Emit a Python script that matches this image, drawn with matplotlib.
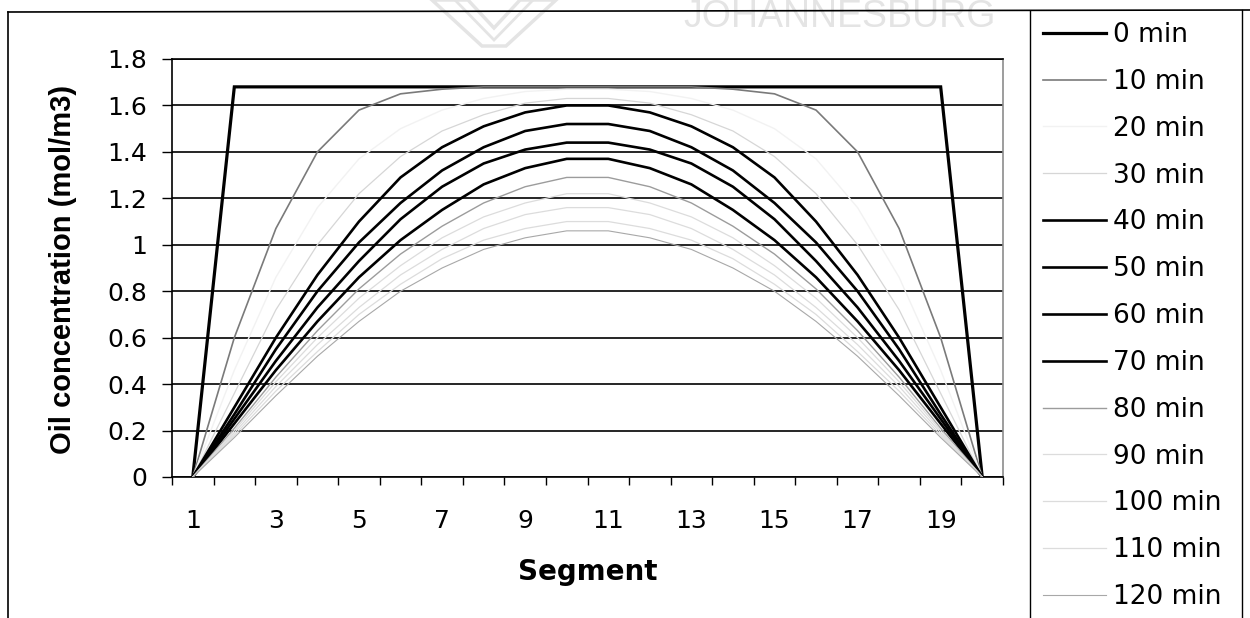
import matplotlib
matplotlib.use("Agg")
import matplotlib.pyplot as plt
from matplotlib.lines import Line2D
from matplotlib.patches import Polygon
from matplotlib.ticker import FixedLocator, NullFormatter, FixedFormatter

plt.rcParams['font.family'] = ['DejaVu Sans']

# Segment numbers along the column
segments = list(range(1, 21))

# Oil concentration profiles (mol/m3) per sampling time
conc_0 = [0, 1.68, 1.68, 1.68, 1.68, 1.68, 1.68, 1.68, 1.68, 1.68,
          1.68, 1.68, 1.68, 1.68, 1.68, 1.68, 1.68, 1.68, 1.68, 0]
conc_10 = [0, 0.60, 1.07, 1.40, 1.58, 1.65, 1.67, 1.68, 1.68, 1.68,
           1.68, 1.68, 1.68, 1.67, 1.65, 1.58, 1.40, 1.07, 0.60, 0]
conc_20 = [0, 0.46, 0.86, 1.16, 1.37, 1.50, 1.58, 1.63, 1.66, 1.67,
           1.67, 1.66, 1.63, 1.58, 1.50, 1.37, 1.16, 0.86, 0.46, 0]
conc_30 = [0, 0.36, 0.72, 1.00, 1.22, 1.38, 1.49, 1.56, 1.61, 1.63,
           1.63, 1.61, 1.56, 1.49, 1.38, 1.22, 1.00, 0.72, 0.36, 0]
conc_40 = [0, 0.30, 0.60, 0.87, 1.10, 1.29, 1.42, 1.51, 1.57, 1.60,
           1.60, 1.57, 1.51, 1.42, 1.29, 1.10, 0.87, 0.60, 0.30, 0]
conc_50 = [0, 0.27, 0.55, 0.80, 1.01, 1.18, 1.32, 1.42, 1.49, 1.52,
           1.52, 1.49, 1.42, 1.32, 1.18, 1.01, 0.80, 0.55, 0.27, 0]
conc_60 = [0, 0.25, 0.50, 0.73, 0.93, 1.11, 1.25, 1.35, 1.41, 1.44,
           1.44, 1.41, 1.35, 1.25, 1.11, 0.93, 0.73, 0.50, 0.25, 0]
conc_70 = [0, 0.23, 0.46, 0.67, 0.86, 1.02, 1.15, 1.26, 1.33, 1.37,
           1.37, 1.33, 1.26, 1.15, 1.02, 0.86, 0.67, 0.46, 0.23, 0]
conc_80 = [0, 0.21, 0.43, 0.63, 0.81, 0.96, 1.08, 1.18, 1.25, 1.29,
           1.29, 1.25, 1.18, 1.08, 0.96, 0.81, 0.63, 0.43, 0.21, 0]
conc_90 = [0, 0.20, 0.41, 0.60, 0.77, 0.91, 1.03, 1.12, 1.18, 1.22,
           1.22, 1.18, 1.12, 1.03, 0.91, 0.77, 0.60, 0.41, 0.20, 0]
conc_100 = [0, 0.19, 0.39, 0.57, 0.73, 0.87, 0.98, 1.07, 1.13, 1.16,
            1.16, 1.13, 1.07, 0.98, 0.87, 0.73, 0.57, 0.39, 0.19, 0]
conc_110 = [0, 0.18, 0.37, 0.54, 0.70, 0.83, 0.94, 1.02, 1.07, 1.10,
            1.10, 1.07, 1.02, 0.94, 0.83, 0.70, 0.54, 0.37, 0.18, 0]
conc_120 = [0, 0.17, 0.35, 0.52, 0.67, 0.80, 0.90, 0.98, 1.03, 1.06,
            1.06, 1.03, 0.98, 0.90, 0.80, 0.67, 0.52, 0.35, 0.17, 0]

series_labels = ['0 min', '10 min', '20 min', '30 min', '40 min', '50 min',
                 '60 min', '70 min', '80 min', '90 min', '100 min',
                 '110 min', '120 min']
series_values = [conc_0, conc_10, conc_20, conc_30, conc_40, conc_50,
                 conc_60, conc_70, conc_80, conc_90, conc_100, conc_110,
                 conc_120]

line_colors = ['#000000', '#7a7a7a', '#f2f2f2', '#d6d6d6', '#000000',
               '#000000', '#000000', '#000000', '#9c9c9c', '#dcdcdc',
               '#dcdcdc', '#dcdcdc', '#a8a8a8']
line_widths = [2.3, 1.2, 1.0, 0.9, 1.9, 1.9, 1.9, 1.9, 1.0, 0.9, 0.9, 0.9, 0.8]

y_ticks = [0, 0.2, 0.4, 0.6, 0.8, 1, 1.2, 1.4, 1.6, 1.8]
y_ticklabels = ['0', '0.2', '0.4', '0.6', '0.8', '1', '1.2', '1.4', '1.6', '1.8']
x_ticklabels = ['1', '3', '5', '7', '9', '11', '13', '15', '17', '19']

W, H = 1250, 618
fig = plt.figure(figsize=(W / 100, H / 100), dpi=100)
fig.patch.set_facecolor('white')

# faint watermark at the top of the page
wm = '#e4e4e4'
fig.add_artist(Polygon([(432 / W, 1.0), (468 / W, 1.0), (494 / W, 1 - 28 / H),
                        (520 / W, 1.0), (556 / W, 1.0), (506 / W, 1 - 46 / H),
                        (482 / W, 1 - 46 / H)], closed=True,
                       transform=fig.transFigure, facecolor='none',
                       edgecolor=wm, lw=2.5, zorder=0))
fig.add_artist(Polygon([(455 / W, 1.0), (494 / W, 1 - 40 / H), (533 / W, 1.0)],
                       closed=False, transform=fig.transFigure,
                       facecolor='none', edgecolor=wm, lw=2.0, zorder=0))
fig.text(683 / W, 1 - 27 / H, 'JOHANNESBURG', fontsize=27, color=wm,
         family='Liberation Sans', ha='left', va='baseline', zorder=0)

# chart area frame and legend box (continuing below the page edge)
fig.add_artist(Line2D([8 / W, 8 / W], [1 - 12 / H, 0], transform=fig.transFigure,
                      color='black', lw=1.2))
fig.add_artist(Line2D([8 / W, 1.0], [1 - 12 / H, 1 - 10 / H],
                      transform=fig.transFigure, color='black', lw=1.2))
fig.add_artist(Line2D([1030 / W, 1030 / W], [1 - 11 / H, 0],
                      transform=fig.transFigure, color='black', lw=1.0))
fig.add_artist(Line2D([1242 / W, 1242 / W], [1 - 10 / H, 0],
                      transform=fig.transFigure, color='black', lw=1.0))

ax = fig.add_axes([172 / W, 1 - 477 / H, (1003 - 172) / W, (477 - 59) / H])

handles = []
for vals, lab, col, lw in zip(series_values, series_labels, line_colors, line_widths):
    h, = ax.plot(segments, vals, color=col, lw=lw, label=lab,
                 solid_joinstyle='miter', zorder=3)
    handles.append(h)

ax.set_xlim(0.5, 20.5)
ax.set_ylim(0, 1.8)

ax.set_yticks(y_ticks)
ax.set_yticklabels(y_ticklabels)
ax.yaxis.grid(True, color='black', lw=1.2)
ax.set_axisbelow(True)

ax.xaxis.set_major_locator(FixedLocator([b + 0.5 for b in range(0, 21)]))
ax.xaxis.set_major_formatter(NullFormatter())
ax.xaxis.set_minor_locator(FixedLocator(list(range(1, 21, 2))))
ax.xaxis.set_minor_formatter(FixedFormatter(x_ticklabels))

ax.tick_params(axis='x', which='major', direction='out', length=6, width=1.0,
               color='black')
ax.tick_params(axis='x', which='minor', length=0, labelsize=18, pad=23)
ax.tick_params(axis='y', which='major', direction='out', length=7.5, width=1.0,
               labelsize=18, pad=10.5)

for side in ['left', 'bottom', 'top']:
    ax.spines[side].set_color('black')
    ax.spines[side].set_linewidth(1.2)
ax.spines['right'].set_color('#8c8c8c')
ax.spines['right'].set_linewidth(1.2)

ax.set_ylabel('Oil concentration (mol/m3)', fontsize=21, fontweight='bold',
              family='Liberation Sans')
ax.yaxis.set_label_coords((77 - 172) / 831, (477 - 269) / 418)
ax.set_xlabel('Segment', fontsize=20, fontweight='bold')
ax.xaxis.set_label_coords((588 - 172) / 831, (477 - 558) / 418)

fig.legend(handles=handles, labels=series_labels, loc='upper left',
           bbox_to_anchor=(1043 / W, 1 - 22 / H), frameon=False,
           fontsize=19, handlelength=2.39, handletextpad=0.27,
           labelspacing=0.79, borderpad=0, borderaxespad=0)

fig.savefig('out.png', dpi=100, facecolor='white')
